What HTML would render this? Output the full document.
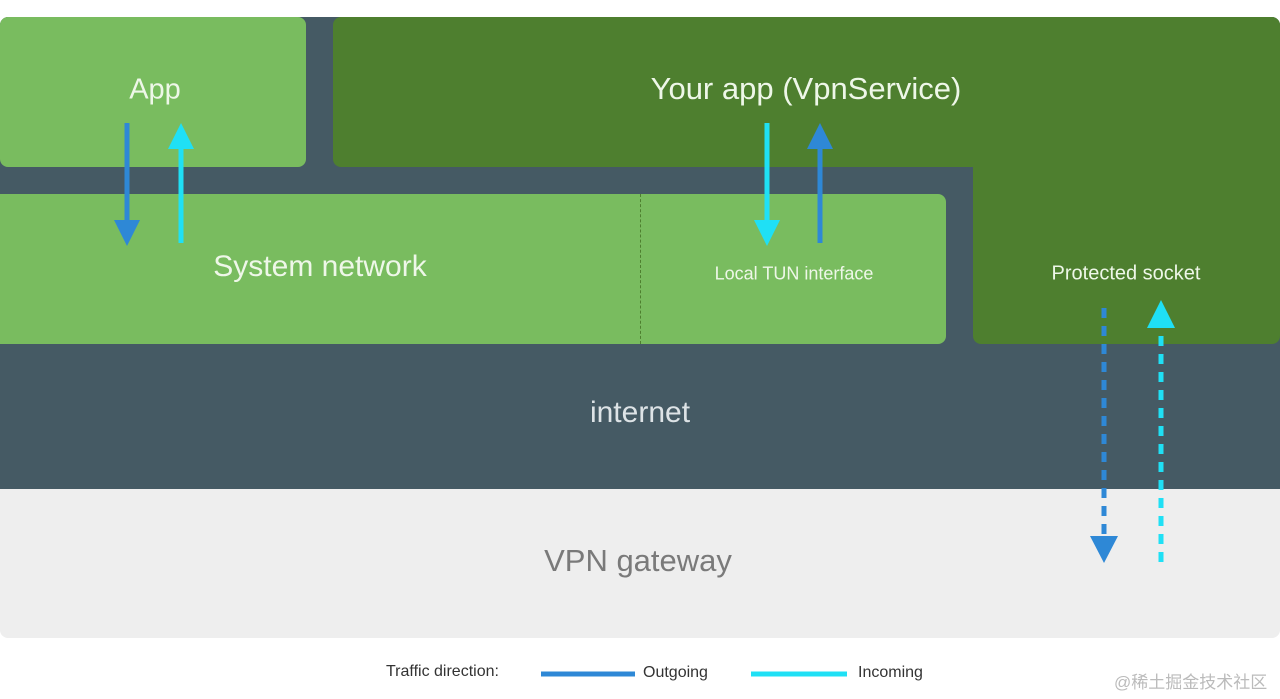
<!DOCTYPE html>
<html><head><style>
body{margin:0;width:1280px;height:699px;background:#fff;position:relative;overflow:hidden;font-family:"Liberation Sans",sans-serif}
.a{position:absolute}
.t{position:absolute;transform:translate(-50%,-50%);white-space:nowrap}
</style></head><body>
<div class="a" style="left:0;top:17px;width:1280px;height:472px;background:#455a64;border-radius:8px 8px 0 0"></div>
<div class="a" style="left:0;top:489px;width:1280px;height:149px;background:#eeeeee;border-radius:0 0 8px 8px"></div>
<div class="a" style="left:0;top:17px;width:306px;height:150px;background:#79bc5f;border-radius:8px"></div>
<div class="a" style="left:333px;top:17px;width:947px;height:150px;background:#4e7f2f;border-radius:8px 8px 0 8px"></div>
<div class="a" style="left:973px;top:150px;width:307px;height:194px;background:#4e7f2f;border-radius:0 0 8px 8px"></div>
<div class="a" style="left:940px;top:167px;width:33px;height:27px;background:#455a64;border-top-right-radius:8px"></div>
<div class="a" style="left:0;top:194px;width:946px;height:150px;background:#79bc5f;border-radius:0 8px 8px 0"></div>
<div class="a" style="left:640px;top:194px;width:0;height:150px;border-left:1px dashed #4e7f2f"></div>
<div class="t" style="left:155px;top:90px;font-size:29px;color:#eef7e8">App</div>
<div class="t" style="left:806px;top:89px;font-size:31px;color:#eef7e8">Your app (VpnService)</div>
<div class="t" style="left:320px;top:267px;font-size:30px;color:#eef7e8">System network</div>
<div class="t" style="left:794px;top:274px;font-size:18px;color:#eef7e8">Local TUN interface</div>
<div class="t" style="left:1126px;top:274px;font-size:20px;color:#eef7e8">Protected socket</div>
<div class="t" style="left:640px;top:413px;font-size:30px;color:#dde3e6">internet</div>
<div class="t" style="left:638px;top:561px;font-size:31px;color:#7a7a7a">VPN gateway</div>
<svg class="a" style="left:0;top:0" width="1280" height="699">
<g stroke-width="5">
<line x1="127" y1="123" x2="127" y2="222" stroke="#2e88d6"/><polygon points="114,220 140,220 127,246" fill="#2e88d6"/>
<line x1="181" y1="243" x2="181" y2="146" stroke="#1fe0f5"/><polygon points="168,149 194,149 181,123" fill="#1fe0f5"/>
<line x1="767" y1="123" x2="767" y2="222" stroke="#1fe0f5"/><polygon points="754,220 780,220 767,246" fill="#1fe0f5"/>
<line x1="820" y1="243" x2="820" y2="146" stroke="#2e88d6"/><polygon points="807,149 833,149 820,123" fill="#2e88d6"/>
<line x1="1104" y1="308" x2="1104" y2="536" stroke="#2e88d6" stroke-dasharray="10,8"/><polygon points="1090,536 1118,536 1104,563" fill="#2e88d6"/>
<line x1="1161" y1="562" x2="1161" y2="326" stroke="#1fe0f5" stroke-dasharray="10,8"/><polygon points="1147,328 1175,328 1161,300" fill="#1fe0f5"/>
<line x1="541" y1="674" x2="635" y2="674" stroke="#2e88d6"/>
<line x1="751" y1="674" x2="847" y2="674" stroke="#1fe0f5"/>
</g>
</svg>
<div class="a" style="left:386px;top:663px;font-size:16px;color:#333">Traffic direction:</div>
<div class="a" style="left:643px;top:664px;font-size:16px;color:#333">Outgoing</div>
<div class="a" style="left:858px;top:664px;font-size:16px;color:#333">Incoming</div>
<div class="a" style="left:1114px;top:668px;font-size:17px;color:#bbb;font-family:'Liberation Sans','Noto Sans CJK SC',sans-serif">@稀土掘金技术社区</div>
</body></html>
